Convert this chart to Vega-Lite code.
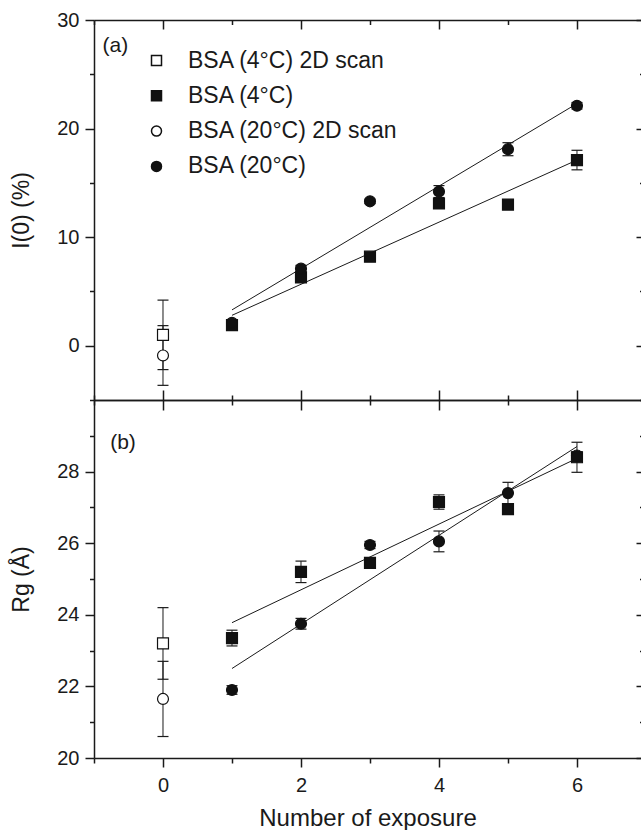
{
  "$schema": "https://vega.github.io/schema/vega-lite/v6.json",
  "padding": {"left": 10, "top": 10, "right": 0, "bottom": 0},
  "autosize": {"type": "pad"},
  "background": "white",
  "config": {
    "font": "Liberation Sans",
    "view": {"stroke": null},
    "axis": {"grid": false, "domainColor": "#1a1a1a", "tickColor": "#1a1a1a", "domainWidth": 1.5, "tickWidth": 1.5, "labelColor": "#1a1a1a", "titleColor": "#1a1a1a", "labelFont": "Liberation Sans", "titleFont": "Liberation Sans", "labelFontSize": 20, "titleFontSize": 23, "titleFontWeight": "normal", "labelFlush": false, "labelOverlap": false}
  },
  "datasets": {
    "pts": [
      {"panel": "a", "series": "BSA (4°C) 2D scan", "x": 0, "y": 1.0, "lo": -2.2, "hi": 4.2},
      {"panel": "a", "series": "BSA (20°C) 2D scan", "x": 0, "y": -0.9, "lo": -3.65, "hi": 1.85},
      {"panel": "a", "series": "BSA (4°C)", "x": 1, "y": 1.9, "lo": 1.6, "hi": 2.2},
      {"panel": "a", "series": "BSA (4°C)", "x": 2, "y": 6.3, "lo": 5.85, "hi": 6.75},
      {"panel": "a", "series": "BSA (4°C)", "x": 3, "y": 8.2, "lo": 8.0, "hi": 8.4},
      {"panel": "a", "series": "BSA (4°C)", "x": 4, "y": 13.1, "lo": 12.8, "hi": 13.4},
      {"panel": "a", "series": "BSA (4°C)", "x": 5, "y": 13.0, "lo": 12.8, "hi": 13.2},
      {"panel": "a", "series": "BSA (4°C)", "x": 6, "y": 17.1, "lo": 16.2, "hi": 18.0},
      {"panel": "a", "series": "BSA (20°C)", "x": 1, "y": 2.1, "lo": 1.9, "hi": 2.3},
      {"panel": "a", "series": "BSA (20°C)", "x": 2, "y": 7.1, "lo": 6.8, "hi": 7.4},
      {"panel": "a", "series": "BSA (20°C)", "x": 3, "y": 13.3, "lo": 13.1, "hi": 13.5},
      {"panel": "a", "series": "BSA (20°C)", "x": 4, "y": 14.2, "lo": 13.65, "hi": 14.75},
      {"panel": "a", "series": "BSA (20°C)", "x": 5, "y": 18.1, "lo": 17.5, "hi": 18.7},
      {"panel": "a", "series": "BSA (20°C)", "x": 6, "y": 22.1, "lo": 21.8, "hi": 22.4},
      {"panel": "b", "series": "BSA (4°C) 2D scan", "x": 0, "y": 23.2, "lo": 22.2, "hi": 24.2},
      {"panel": "b", "series": "BSA (20°C) 2D scan", "x": 0, "y": 21.65, "lo": 20.6, "hi": 22.7},
      {"panel": "b", "series": "BSA (4°C)", "x": 1, "y": 23.35, "lo": 23.13, "hi": 23.57},
      {"panel": "b", "series": "BSA (4°C)", "x": 2, "y": 25.2, "lo": 24.9, "hi": 25.5},
      {"panel": "b", "series": "BSA (4°C)", "x": 3, "y": 25.45, "lo": 25.35, "hi": 25.55},
      {"panel": "b", "series": "BSA (4°C)", "x": 4, "y": 27.15, "lo": 26.95, "hi": 27.35},
      {"panel": "b", "series": "BSA (4°C)", "x": 5, "y": 26.95, "lo": 26.85, "hi": 27.05},
      {"panel": "b", "series": "BSA (4°C)", "x": 6, "y": 28.4, "lo": 27.98, "hi": 28.82},
      {"panel": "b", "series": "BSA (20°C)", "x": 1, "y": 21.9, "lo": 21.78, "hi": 22.02},
      {"panel": "b", "series": "BSA (20°C)", "x": 2, "y": 23.75, "lo": 23.6, "hi": 23.9},
      {"panel": "b", "series": "BSA (20°C)", "x": 3, "y": 25.95, "lo": 25.85, "hi": 26.05},
      {"panel": "b", "series": "BSA (20°C)", "x": 4, "y": 26.05, "lo": 25.76, "hi": 26.34},
      {"panel": "b", "series": "BSA (20°C)", "x": 5, "y": 27.4, "lo": 27.1, "hi": 27.7},
      {"panel": "b", "series": "BSA (20°C)", "x": 6, "y": 28.45, "lo": 28.35, "hi": 28.55}
    ],
    "fits": [
      {"panel": "a", "series": "BSA (4°C)", "x": 1, "y": 2.8},
      {"panel": "a", "series": "BSA (4°C)", "x": 6, "y": 17.1},
      {"panel": "a", "series": "BSA (20°C)", "x": 1, "y": 3.3},
      {"panel": "a", "series": "BSA (20°C)", "x": 6, "y": 22.3},
      {"panel": "b", "series": "BSA (4°C)", "x": 1, "y": 23.78},
      {"panel": "b", "series": "BSA (4°C)", "x": 6, "y": 28.37},
      {"panel": "b", "series": "BSA (20°C)", "x": 1, "y": 22.5},
      {"panel": "b", "series": "BSA (20°C)", "x": 6, "y": 28.7}
    ],
    "labels": [{"panel": "a", "t": "(a)"}, {"panel": "b", "t": "(b)"}]
  },
  "spacing": 0,
  "bounds": "flush",
  "resolve": {"scale": {"shape": "independent", "fill": "independent"}, "legend": {"shape": "independent", "fill": "independent"}},
  "vconcat": [
    {
      "width": 547,
      "height": 380,
      "data": {"name": "pts"},
      "transform": [{"filter": "datum.panel === 'a'"}],
      "resolve": {"axis": {"x": "independent", "y": "independent"}},
      "layer": [
        {
          "mark": {"type": "point", "opacity": 0},
          "encoding": {
            "x": {"field": "x", "type": "quantitative", "scale": {"domain": [-1, 6.928], "nice": false, "zero": false},
                  "axis": {"orient": "bottom", "values": [0, 2, 4, 6], "labels": false, "tickSize": 10, "domain": true, "title": null}},
            "y": {"field": "y", "type": "quantitative", "scale": {"domain": [-5, 30], "nice": false, "zero": false},
                  "axis": {"orient": "left", "values": [0, 10, 20, 30], "tickSize": 9, "labelPadding": 6, "domain": true, "title": "I(0) (%)", "titlePadding": 23}}
          }
        },
        {
          "mark": {"type": "point", "opacity": 0},
          "encoding": {
            "x": {"field": "x", "type": "quantitative", "scale": {"domain": [-1, 6.928], "nice": false, "zero": false},
                  "axis": {"orient": "bottom", "values": [-1, 1, 3, 5], "labels": false, "tickSize": 5, "domain": false, "title": null}},
            "y": {"field": "y", "type": "quantitative", "scale": {"domain": [-5, 30], "nice": false, "zero": false},
                  "axis": {"orient": "left", "values": [-5, 5, 15, 25], "labels": false, "tickSize": 4.5, "domain": false, "title": null}}
          }
        },
        {
          "mark": {"type": "point", "opacity": 0},
          "encoding": {
            "x": {"field": "x", "type": "quantitative", "scale": {"domain": [-1, 6.928], "nice": false, "zero": false},
                  "axis": {"orient": "top", "values": [0, 2, 4, 6], "labels": false, "tickSize": 9, "offset": -9, "domain": false, "title": null}},
            "y": {"field": "y", "type": "quantitative", "scale": {"domain": [-5, 30], "nice": false, "zero": false},
                  "axis": {"orient": "right", "values": [0, 10, 20, 30], "labels": false, "tickSize": 5, "offset": -5, "domain": false, "title": null}}
          }
        },
        {
          "mark": {"type": "point", "opacity": 0},
          "encoding": {
            "x": {"field": "x", "type": "quantitative", "scale": {"domain": [-1, 6.928], "nice": false, "zero": false},
                  "axis": {"orient": "top", "values": [-1, 1, 3, 5], "labels": false, "tickSize": 4.5, "offset": -4.5, "domain": false, "title": null}},
            "y": {"field": "y", "type": "quantitative", "scale": {"domain": [-5, 30], "nice": false, "zero": false},
                  "axis": {"orient": "right", "values": [-5, 5, 15, 25], "labels": false, "tickSize": 1.5, "offset": -1.5, "domain": false, "title": null}}
          }
        },
        {
          "mark": {"type": "point", "opacity": 0},
          "encoding": {
            "x": {"field": "x", "type": "quantitative", "scale": {"domain": [-1, 6.928], "nice": false, "zero": false},
                  "axis": {"orient": "top", "ticks": false, "labels": false, "domain": true, "title": null}},
            "y": {"field": "y", "type": "quantitative", "scale": {"domain": [-5, 30], "nice": false, "zero": false}, "axis": null}
          }
        },
        {
          "data": {"name": "fits"},
          "transform": [{"filter": "datum.panel === 'a'"}],
          "mark": {"type": "line", "color": "#1a1a1a", "strokeWidth": 1},
          "encoding": {
            "x": {"field": "x", "type": "quantitative", "scale": {"domain": [-1, 6.928], "nice": false, "zero": false}, "axis": null},
            "y": {"field": "y", "type": "quantitative", "scale": {"domain": [-5, 30], "nice": false, "zero": false}, "axis": null},
            "detail": {"field": "series", "type": "nominal"}
          }
        },
        {
          "mark": {"type": "rule", "color": "#1a1a1a", "strokeWidth": 1},
          "encoding": {
            "x": {"field": "x", "type": "quantitative", "scale": {"domain": [-1, 6.928], "nice": false, "zero": false}, "axis": null},
            "y": {"field": "lo", "type": "quantitative", "scale": {"domain": [-5, 30], "nice": false, "zero": false}, "axis": null},
            "y2": {"field": "hi"}
          }
        },
        {
          "mark": {"type": "tick", "orient": "horizontal", "color": "#1a1a1a", "size": 11, "thickness": 1.2, "opacity": 1},
          "encoding": {
            "x": {"field": "x", "type": "quantitative", "scale": {"domain": [-1, 6.928], "nice": false, "zero": false}, "axis": null},
            "y": {"field": "lo", "type": "quantitative", "scale": {"domain": [-5, 30], "nice": false, "zero": false}, "axis": null}
          }
        },
        {
          "mark": {"type": "tick", "orient": "horizontal", "color": "#1a1a1a", "size": 11, "thickness": 1.2, "opacity": 1},
          "encoding": {
            "x": {"field": "x", "type": "quantitative", "scale": {"domain": [-1, 6.928], "nice": false, "zero": false}, "axis": null},
            "y": {"field": "hi", "type": "quantitative", "scale": {"domain": [-5, 30], "nice": false, "zero": false}, "axis": null}
          }
        },
        {
          "mark": {"type": "point", "filled": true, "opacity": 1, "stroke": "#111111", "strokeWidth": 1.2, "size": 120},
          "encoding": {
            "x": {"field": "x", "type": "quantitative", "scale": {"domain": [-1, 6.928], "nice": false, "zero": false}, "axis": null},
            "y": {"field": "y", "type": "quantitative", "scale": {"domain": [-5, 30], "nice": false, "zero": false}, "axis": null},
            "shape": {"field": "series", "type": "nominal",
                      "scale": {"domain": ["BSA (4°C) 2D scan", "BSA (4°C)", "BSA (20°C) 2D scan", "BSA (20°C)"], "range": ["square", "square", "circle", "circle"]},
                      "legend": {"title": null, "orient": "none", "legendX": 51, "legendY": 29, "symbolSize": 100, "labelFontSize": 23, "labelFont": "Liberation Sans", "labelColor": "#1a1a1a", "rowPadding": 11.3, "labelOffset": 20, "padding": 0, "labelLimit": 400, "symbolOpacity": 1,
                                 "encode": {"symbols": {"update": {"stroke": {"value": "#111111"}, "strokeWidth": {"value": 1.2}}}}}},
            "fill": {"field": "series", "type": "nominal",
                     "scale": {"domain": ["BSA (4°C) 2D scan", "BSA (4°C)", "BSA (20°C) 2D scan", "BSA (20°C)"], "range": ["white", "#111111", "white", "#111111"]},
                     "legend": {"title": null, "orient": "none", "legendX": 51, "legendY": 29, "symbolSize": 100, "labelFontSize": 23, "labelFont": "Liberation Sans", "labelColor": "#1a1a1a", "rowPadding": 11.3, "labelOffset": 20, "padding": 0, "labelLimit": 400, "symbolOpacity": 1,
                                "encode": {"symbols": {"update": {"stroke": {"value": "#111111"}, "strokeWidth": {"value": 1.2}}}}}}
          }
        },
        {
          "data": {"name": "labels"},
          "transform": [{"filter": "datum.panel === 'a'"}],
          "mark": {"type": "text", "fontSize": 21, "font": "Liberation Sans", "fill": "#1a1a1a", "fontWeight": "normal"},
          "encoding": {
            "x": {"datum": -0.69, "type": "quantitative", "scale": {"domain": [-1, 6.928], "nice": false, "zero": false}, "axis": null},
            "y": {"datum": 27.6, "type": "quantitative", "scale": {"domain": [-5, 30], "nice": false, "zero": false}, "axis": null},
            "text": {"field": "t"}
          }
        }
      ]
    },
    {
      "width": 547,
      "height": 358,
      "data": {"name": "pts"},
      "transform": [{"filter": "datum.panel === 'b'"}],
      "resolve": {"axis": {"x": "independent", "y": "independent"}},
      "layer": [
        {
          "mark": {"type": "point", "opacity": 0},
          "encoding": {
            "x": {"field": "x", "type": "quantitative", "scale": {"domain": [-1, 6.928], "nice": false, "zero": false},
                  "axis": {"orient": "bottom", "values": [0, 2, 4, 6], "tickSize": 9, "labelPadding": 8, "domain": true, "title": "Number of exposure", "titlePadding": 11, "titleFontSize": 24}},
            "y": {"field": "y", "type": "quantitative", "scale": {"domain": [20, 30], "nice": false, "zero": false},
                  "axis": {"orient": "left", "values": [20, 22, 24, 26, 28], "tickSize": 9, "labelPadding": 6, "domain": true, "title": "Rg (Å)", "titlePadding": 23}}
          }
        },
        {
          "mark": {"type": "point", "opacity": 0},
          "encoding": {
            "x": {"field": "x", "type": "quantitative", "scale": {"domain": [-1, 6.928], "nice": false, "zero": false},
                  "axis": {"orient": "bottom", "values": [-1, 1, 3, 5], "labels": false, "tickSize": 5, "domain": false, "title": null}},
            "y": {"field": "y", "type": "quantitative", "scale": {"domain": [20, 30], "nice": false, "zero": false},
                  "axis": {"orient": "left", "values": [21, 23, 25, 27, 29], "labels": false, "tickSize": 4.5, "domain": false, "title": null}}
          }
        },
        {
          "mark": {"type": "point", "opacity": 0},
          "encoding": {
            "x": {"field": "x", "type": "quantitative", "scale": {"domain": [-1, 6.928], "nice": false, "zero": false},
                  "axis": {"orient": "top", "values": [0, 2, 4, 6], "labels": false, "tickSize": 10, "domain": true, "title": null}},
            "y": {"field": "y", "type": "quantitative", "scale": {"domain": [20, 30], "nice": false, "zero": false},
                  "axis": {"orient": "right", "values": [20, 22, 24, 26, 28], "labels": false, "tickSize": 5, "offset": -5, "domain": false, "title": null}}
          }
        },
        {
          "mark": {"type": "point", "opacity": 0},
          "encoding": {
            "x": {"field": "x", "type": "quantitative", "scale": {"domain": [-1, 6.928], "nice": false, "zero": false},
                  "axis": {"orient": "top", "values": [-1, 1, 3, 5], "labels": false, "tickSize": 5, "domain": false, "title": null}},
            "y": {"field": "y", "type": "quantitative", "scale": {"domain": [20, 30], "nice": false, "zero": false},
                  "axis": {"orient": "right", "values": [21, 23, 25, 27, 29], "labels": false, "tickSize": 1.5, "offset": -1.5, "domain": false, "title": null}}
          }
        },
        {
          "data": {"name": "fits"},
          "transform": [{"filter": "datum.panel === 'b'"}],
          "mark": {"type": "line", "color": "#1a1a1a", "strokeWidth": 1},
          "encoding": {
            "x": {"field": "x", "type": "quantitative", "scale": {"domain": [-1, 6.928], "nice": false, "zero": false}, "axis": null},
            "y": {"field": "y", "type": "quantitative", "scale": {"domain": [20, 30], "nice": false, "zero": false}, "axis": null},
            "detail": {"field": "series", "type": "nominal"}
          }
        },
        {
          "mark": {"type": "rule", "color": "#1a1a1a", "strokeWidth": 1},
          "encoding": {
            "x": {"field": "x", "type": "quantitative", "scale": {"domain": [-1, 6.928], "nice": false, "zero": false}, "axis": null},
            "y": {"field": "lo", "type": "quantitative", "scale": {"domain": [20, 30], "nice": false, "zero": false}, "axis": null},
            "y2": {"field": "hi"}
          }
        },
        {
          "mark": {"type": "tick", "orient": "horizontal", "color": "#1a1a1a", "size": 11, "thickness": 1.2, "opacity": 1},
          "encoding": {
            "x": {"field": "x", "type": "quantitative", "scale": {"domain": [-1, 6.928], "nice": false, "zero": false}, "axis": null},
            "y": {"field": "lo", "type": "quantitative", "scale": {"domain": [20, 30], "nice": false, "zero": false}, "axis": null}
          }
        },
        {
          "mark": {"type": "tick", "orient": "horizontal", "color": "#1a1a1a", "size": 11, "thickness": 1.2, "opacity": 1},
          "encoding": {
            "x": {"field": "x", "type": "quantitative", "scale": {"domain": [-1, 6.928], "nice": false, "zero": false}, "axis": null},
            "y": {"field": "hi", "type": "quantitative", "scale": {"domain": [20, 30], "nice": false, "zero": false}, "axis": null}
          }
        },
        {
          "mark": {"type": "point", "filled": true, "opacity": 1, "stroke": "#111111", "strokeWidth": 1.2, "size": 120},
          "encoding": {
            "x": {"field": "x", "type": "quantitative", "scale": {"domain": [-1, 6.928], "nice": false, "zero": false}, "axis": null},
            "y": {"field": "y", "type": "quantitative", "scale": {"domain": [20, 30], "nice": false, "zero": false}, "axis": null},
            "shape": {"field": "series", "type": "nominal",
                      "scale": {"domain": ["BSA (4°C) 2D scan", "BSA (4°C)", "BSA (20°C) 2D scan", "BSA (20°C)"], "range": ["square", "square", "circle", "circle"]},
                      "legend": null},
            "fill": {"field": "series", "type": "nominal",
                     "scale": {"domain": ["BSA (4°C) 2D scan", "BSA (4°C)", "BSA (20°C) 2D scan", "BSA (20°C)"], "range": ["white", "#111111", "white", "#111111"]},
                     "legend": null}
          }
        },
        {
          "data": {"name": "labels"},
          "transform": [{"filter": "datum.panel === 'b'"}],
          "mark": {"type": "text", "fontSize": 21, "font": "Liberation Sans", "fill": "#1a1a1a", "fontWeight": "normal"},
          "encoding": {
            "x": {"datum": -0.58, "type": "quantitative", "scale": {"domain": [-1, 6.928], "nice": false, "zero": false}, "axis": null},
            "y": {"datum": 28.8, "type": "quantitative", "scale": {"domain": [20, 30], "nice": false, "zero": false}, "axis": null},
            "text": {"field": "t"}
          }
        }
      ]
    }
  ]
}
